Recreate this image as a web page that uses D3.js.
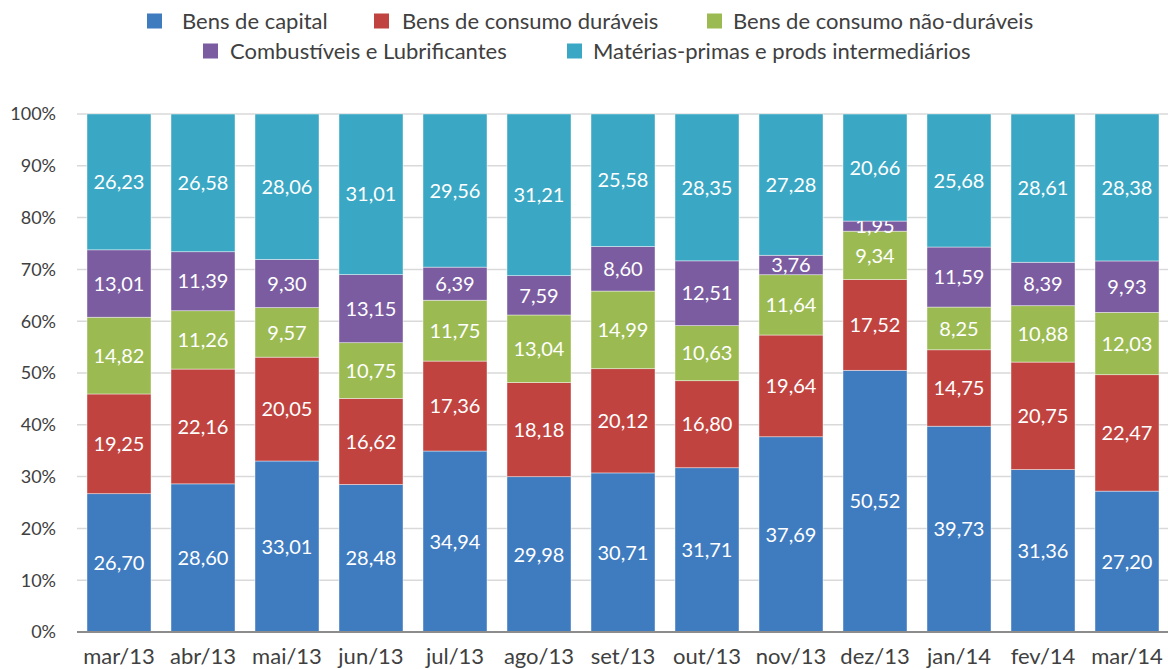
<!DOCTYPE html>
<html>
<head>
<meta charset="utf-8">
<script src="https://cdn.jsdelivr.net/npm/d3@7"></script>
<style>
  body { margin: 0; background: #fff; }
  text { font-family: Lato, "Open Sans", sans-serif; }
</style>
</head>
<body>
<div id="chart"></div>
<script>
const months = ["mar/13","abr/13","mai/13","jun/13","jul/13","ago/13","set/13","out/13","nov/13","dez/13","jan/14","fev/14","mar/14"];
const seriesNames = ["Bens de capital","Bens de consumo duráveis","Bens de consumo não-duráveis","Combustíveis e Lubrificantes","Matérias-primas e prods intermediários"];
const capital     = [26.70,28.60,33.01,28.48,34.94,29.98,30.71,31.71,37.69,50.52,39.73,31.36,27.20];
const duraveis    = [19.25,22.16,20.05,16.62,17.36,18.18,20.12,16.80,19.64,17.52,14.75,20.75,22.47];
const naoDuraveis = [14.82,11.26,9.57,10.75,11.75,13.04,14.99,10.63,11.64,9.34,8.25,10.88,12.03];
const combust     = [13.01,11.39,9.30,13.15,6.39,7.59,8.60,12.51,3.76,1.95,11.59,8.39,9.93];
const materias    = [26.23,26.58,28.06,31.01,29.56,31.21,25.58,28.35,27.28,20.66,25.68,28.61,28.38];
const yTicks = [0,10,20,30,40,50,60,70,80,90,100];
const colors = ["#3F7BBF","#C0433F","#9BBB52","#7B5CA0","#3AA8C4"];

const width = 1168, height = 669;
const margin = { top: 114, right: 0, bottom: 37, left: 77 };

const svg = d3.select("#chart").append("svg")
    .attr("width", width).attr("height", height);

const rows = months.map((m, i) => ({
    month: m,
    s0: capital[i], s1: duraveis[i], s2: naoDuraveis[i], s3: combust[i], s4: materias[i]
}));
const keys = ["s0","s1","s2","s3","s4"];
const stacked = d3.stack().keys(keys)(rows);

const x = d3.scaleBand().domain(months)
    .range([margin.left, width - margin.right + 1])
    .paddingInner(0.238).paddingOuter(0.119);

const y = d3.scaleLinear().domain([0, 100])
    .range([height - margin.bottom, margin.top]);

// gridlines
svg.append("g")
    .selectAll("line")
    .data(yTicks.filter(d => d > 0))
    .join("line")
    .attr("x1", margin.left).attr("x2", width)
    .attr("y1", d => y(d)).attr("y2", d => y(d))
    .attr("stroke", "#d9d9d9").attr("stroke-width", 1.5);

// y tick labels
svg.append("g")
    .selectAll("text")
    .data(yTicks)
    .join("text")
    .attr("x", 56).attr("y", d => y(d))
    .attr("dy", "0.35em")
    .attr("text-anchor", "end")
    .attr("font-size", 18)
    .attr("fill", "#404040")
    .text(d => d + "%");

// bars
const layer = svg.append("g")
    .selectAll("g")
    .data(stacked)
    .join("g")
    .attr("fill", (d, i) => colors[i]);

layer.selectAll("rect")
    .data(d => d)
    .join("rect")
    .attr("x", d => x(d.data.month))
    .attr("width", x.bandwidth())
    .attr("y", d => y(d[1]))
    .attr("height", d => y(d[0]) - y(d[1]))
    .attr("stroke", "rgba(255,255,255,0.6)")
    .attr("stroke-width", 0.7);

// value labels
const fmt = v => v.toFixed(2).replace(".", ",");
layer.selectAll("text")
    .data(d => d.map(p => ({ p, key: d.key })))
    .join("text")
    .attr("x", d => x(d.p.data.month) + x.bandwidth() / 2)
    .attr("y", d => (y(d.p[0]) + y(d.p[1])) / 2)
    .attr("dy", "0.36em")
    .attr("text-anchor", "middle")
    .attr("font-size", 20)
    .attr("fill", "#fff")
    .text(d => fmt(d.p.data[d.key]));

// baseline axis
svg.append("line")
    .attr("x1", margin.left).attr("x2", width)
    .attr("y1", y(0)).attr("y2", y(0))
    .attr("stroke", "#8c8c8c").attr("stroke-width", 2);

// x labels
svg.append("g")
    .selectAll("text")
    .data(months)
    .join("text")
    .attr("x", d => x(d) + x.bandwidth() / 2)
    .attr("y", 656)
    .attr("dy", "0.35em")
    .attr("text-anchor", "middle")
    .attr("font-size", 22)
    .attr("fill", "#404040")
    .text(d => d);

// legend (two rows)
const legendPos = [
    { x: 147, y: 21 }, { x: 374, y: 21 }, { x: 707, y: 21 },
    { x: 203, y: 51 }, { x: 567, y: 51 }
];
const legendGap = [35, 28, 26, 27, 26];
const legend = svg.append("g")
    .selectAll("g")
    .data(seriesNames)
    .join("g")
    .attr("transform", (d, i) => `translate(${legendPos[i].x},${legendPos[i].y})`);

legend.append("rect")
    .attr("x", 0).attr("y", -7.5)
    .attr("width", 15).attr("height", 15)
    .attr("fill", (d, i) => colors[i]);

legend.append("text")
    .attr("x", (d, i) => legendGap[i])
    .attr("dy", "0.35em")
    .attr("font-size", 22)
    .attr("fill", "#404040")
    .text(d => d);
</script>
</body>
</html>
